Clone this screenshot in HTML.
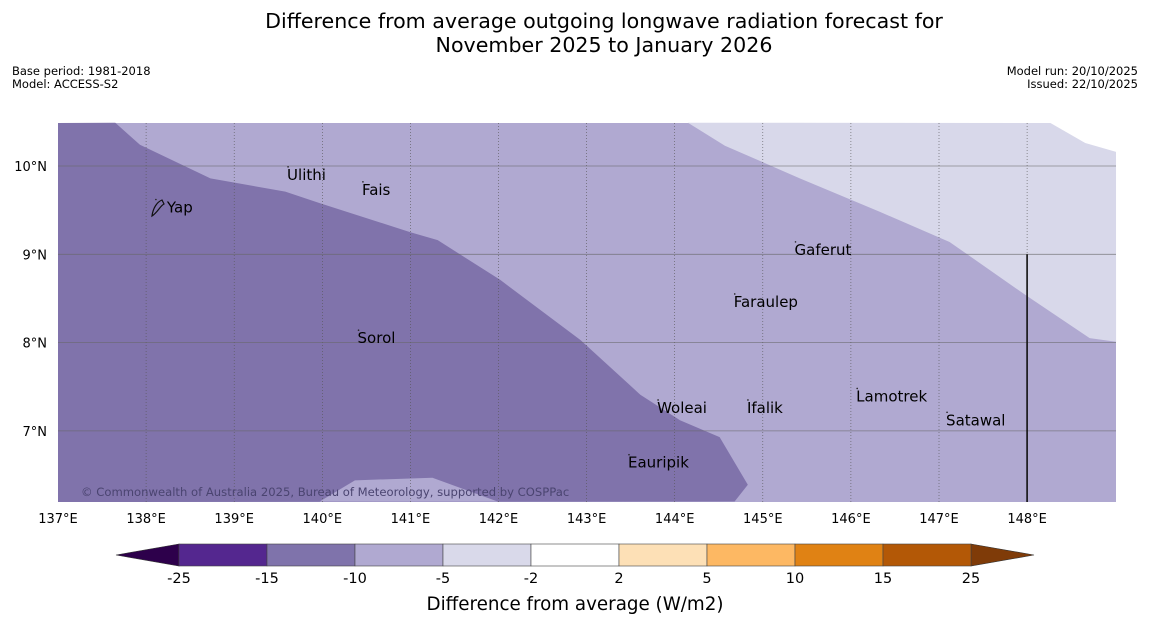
<!DOCTYPE html>
<html><head><meta charset="utf-8"><style>
body{margin:0;background:#fff;font-family:"Liberation Sans","DejaVu Sans",sans-serif}
svg{display:block}
text{font-family:"DejaVu Sans","Liberation Sans",sans-serif}
</style></head><body>
<svg width="1150" height="644" id="svg">
<text x="604" y="28" font-size="20.6" text-anchor="middle">Difference from average outgoing longwave radiation forecast for</text>
<text x="604" y="52" font-size="20.6" text-anchor="middle">November 2025 to January 2026</text>
<text x="12" y="75" font-size="11.5">Base period: 1981-2018</text>
<text x="12" y="88" font-size="11.5">Model: ACCESS-S2</text>
<text x="1138" y="75" font-size="11.5" text-anchor="end">Model run: 20/10/2025</text>
<text x="1138" y="88" font-size="11.5" text-anchor="end">Issued: 22/10/2025</text>
<g id="map"></g>
<g id="cbar"></g>
<text x="575" y="610" font-size="18.3" text-anchor="middle">Difference from average (W/m2)</text>
</svg>
<script>
const lonTicks=[137,138,139,140,141,142,143,144,145,146,147,148];
const latTicks=[10,9,8,7];
const darkLon=[137.65,137.93,138.73,139.58,139.97,141.0,141.31,142.02,142.93,143.61,144.06,144.51,144.83,144.68];
const darkLat=[10.49,10.24,9.86,9.71,9.58,9.25,9.16,8.71,8.03,7.41,7.12,6.93,6.39,6.2];
const bumpLon=[139.97,140.37,141.25,141.99];
const bumpLat=[6.2,6.44,6.47,6.2];
const lightLon=[144.15,144.57,145.42,146.33,147.12,147.98,148.71,149.01];
const lightLat=[10.49,10.23,9.86,9.48,9.14,8.54,8.05,8.01];
const whiteLon=[148.26,148.66,149.01];
const whiteLat=[10.49,10.26,10.16];
const places=["Yap","Ulithi","Fais","Gaferut","Faraulep","Sorol","Woleai","Ifalik","Lamotrek","Satawal","Eauripik"];
const placeLon=[138.1,139.6,140.45,145.36,144.67,140.4,143.8,144.82,146.06,147.08,143.47];
const placeLat=[9.53,9.9,9.73,9.05,8.46,8.05,7.26,7.26,7.39,7.12,6.64];
const cbLevels=["-25","-15","-10","-5","-2","2","5","10","15","25"];
const cbColors=["#54278f","#7f73ab","#b0a9d1","#d9d9ea","#ffffff","#fde0b6","#fdb863","#e08214","#b35806"];
const NS="http://www.w3.org/2000/svg";
const X0=58,X1=1116,Y0=123,Y1=502;
const xs=lon=>58+(lon-137)*88.1;
const ys=lat=>166+(10-lat)*88.3;
const svg=document.getElementById('svg'),map=document.getElementById('map'),cb=document.getElementById('cbar');
function mk(tag,attrs,parent){const e=document.createElementNS(NS,tag);for(const k in attrs)e.setAttribute(k,attrs[k]);parent.appendChild(e);return e;}
const r=mk('rect',{x:X0,y:Y0,width:X1-X0,height:Y1-Y0,fill:'#b0a9d1'},map);


let d=`M${X0},${Y0}`;darkLon.forEach((l,i)=>d+=` L${xs(l)},${ys(darkLat[i])}`);d+=` L${X0},${Y1} Z`;
const p1=mk('path',{d:d,fill:'#8073ab'},map);


let b='M'+bumpLon.map((l,i)=>`${xs(l)},${ys(bumpLat[i])}`).join(' L')+' Z';
const p2=mk('path',{d:b,fill:'#b0a9d1'},map);


let lt='M'+lightLon.map((l,i)=>`${xs(l)},${ys(lightLat[i])}`).join(' L')+` L${X1},${Y0} Z`;
const p3=mk('path',{d:lt,fill:'#d8d8ea'},map);


let wt='M'+whiteLon.map((l,i)=>`${xs(l)},${ys(whiteLat[i])}`).join(' L')+` L${X1},${Y0} Z`;
const p4=mk('path',{d:wt,fill:'#ffffff'},map);


lonTicks.forEach(l=>{const x=xs(l);
 if(l>137){const g=mk('line',{x1:x,x2:x,y1:Y0,y2:Y1,stroke:'#555',"stroke-width":0.6,"stroke-dasharray":"1,2"},map);
 
 }
 const t=mk('text',{x:x,y:523,"font-size":13,"text-anchor":"middle"},svg);t.textContent=l+'°E';
 
 });
latTicks.forEach(l=>{const y=ys(l);
 const g=mk('line',{x1:X0,x2:X1,y1:y,y2:y,stroke:'#666',"stroke-width":0.8,opacity:0.7},map);
 
 
 const t=mk('text',{x:47,y:y+5,"font-size":13,"text-anchor":"end"},svg);t.textContent=l+'°N';
 
 });
const bl=mk('line',{x1:xs(148),x2:xs(148),y1:ys(9),y2:Y1,stroke:'#111',"stroke-width":1.6},map);


places.forEach((n,i)=>{const x=xs(placeLon[i]),y=ys(placeLat[i]);
 const t=mk('text',{x:x+(n==="Yap"?12:0),y:y+5,"font-size":15},map);t.textContent=n;
 
 
 const dt=mk('circle',{cx:x+1,cy:y-8,r:0.8,fill:'#222'},map);
 
 });
const yi=mk('path',{d:"M152,216 C153,208 157,202 162,200 L164,204 C160,206 158,212 152,216 Z",fill:"none",stroke:"#111","stroke-width":1.2},map);


const cp=mk('text',{x:81,y:496,"font-size":11.6,fill:'#4a4470'},map);cp.textContent='© Commonwealth of Australia 2025, Bureau of Meteorology, supported by COSPPac';


const CX0=179,CX1=971,CY0=544,CY1=566,w=(CX1-CX0)/cbColors.length;
const la=mk('path',{d:`M${CX0},${CY0} L116,555 L${CX0},${CY1} Z`,fill:'#2d004b',stroke:'#333',"stroke-width":0.6},cb);


const ra=mk('path',{d:`M${CX1},${CY0} L1034,555 L${CX1},${CY1} Z`,fill:'#7f3b08',stroke:'#333',"stroke-width":0.6},cb);


cbColors.forEach((c,i)=>{const s=mk('rect',{x:CX0+i*w,y:CY0,width:w,height:CY1-CY0,fill:c,stroke:'#444',"stroke-width":0.6},cb);
 
 });
cbLevels.forEach((v,i)=>{const t=mk('text',{x:CX0+i*w,y:583,"font-size":14.5,"text-anchor":"middle"},cb);t.textContent=v;
 
 });
</script>
</body></html>
